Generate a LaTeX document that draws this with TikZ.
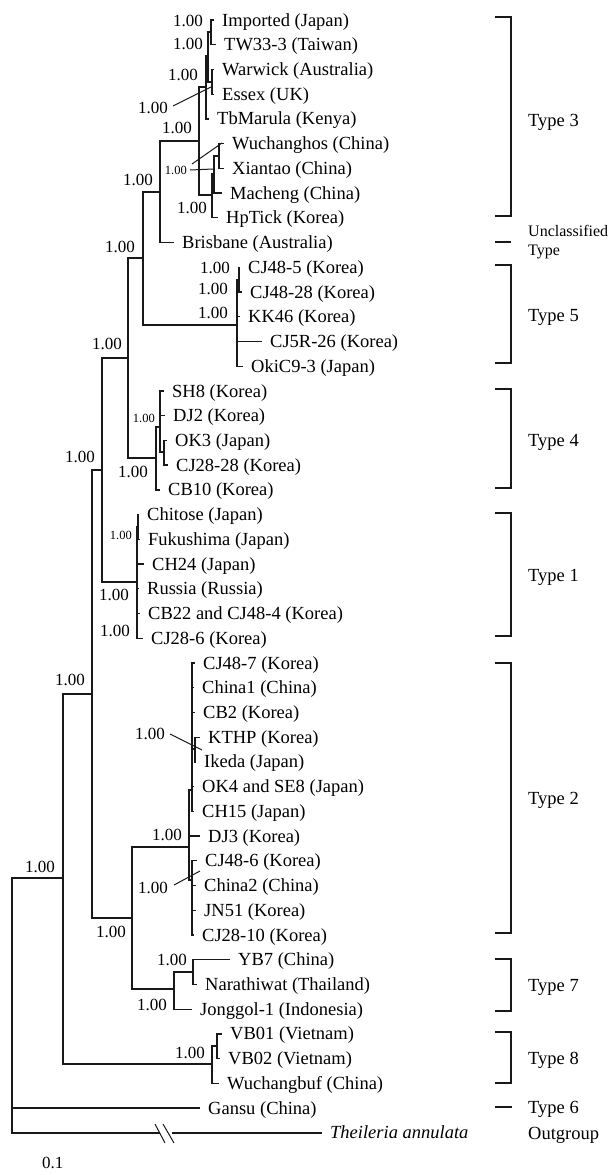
\documentclass[tikz,border=0pt]{standalone}
\usepackage{fontspec}
\setmainfont{Liberation Serif}
\newcommand\leafsize{\fontsize{18.5}{22}\selectfont}
\newcommand\supsize{\fontsize{17}{20}\selectfont}
\newcommand\minisize{\fontsize{12.5}{15}\selectfont}
\newcommand\unclsize{\fontsize{16}{19}\selectfont}

\tikzset{
  branch/.style={line width=1.3pt, draw=black!90},
  leaf/.style={anchor=west, inner xsep=8pt, inner ysep=0pt, text height=14pt, text depth=2pt, font=\leafsize},
  supp/.style={anchor=east, inner sep=0pt, text height=12.5pt, text depth=1.5pt, font=\supsize},
  supsmall/.style={anchor=east, inner sep=0pt, text height=9pt, text depth=1pt, font=\minisize},
  typelab/.style={anchor=west, inner sep=0pt, text height=14pt, text depth=2pt, font=\leafsize},
  bracket/.style={line width=1.6pt, draw=black!90},
  leader/.style={line width=1pt, draw=black!90}
}

\begin{document}
\begin{tikzpicture}[x=1pt,y=-1pt]
\useasboundingbox (0,0) rectangle (610,1175);

% ---- internal nodes of the tree
\coordinate (R)   at (12,1005);
\coordinate (A)   at (63,878);
\coordinate (B)   at (92,694);
\coordinate (C)   at (132,918);
\coordinate (T7)  at (174,989);
\coordinate (YN)  at (193,972);
\coordinate (T8)  at (212,1064);
\coordinate (VV)  at (217,1046);
\coordinate (T2)  at (189,847);
\coordinate (T2a) at (192,790);
\coordinate (KK)  at (195,749);
\coordinate (T2b) at (192,880);
\coordinate (P)   at (102,470);
\coordinate (Q)   at (128,358);
\coordinate (S)   at (143,258);
\coordinate (U)   at (160,192);
\coordinate (T3)  at (199,141);
\coordinate (J1)  at (206,87);
\coordinate (J2)  at (208,56);
\coordinate (IT)  at (211,32);
\coordinate (WE)  at (212,82);
\coordinate (CN)  at (212,195);
\coordinate (CX)  at (214,174);
\coordinate (WX)  at (219,156);
\coordinate (T5)  at (237,325);
\coordinate (T5a) at (239,280);
\coordinate (T4)  at (156,458);
\coordinate (SD)  at (160,427);
\coordinate (OC)  at (164,452);
\coordinate (T1)  at (137,582);
\coordinate (CF)  at (138,527);

% ---- taxa
\node[leaf] (imported)   at (214,20.0)   {Imported (Japan)};
\node[leaf] (tw)         at (216,44.7)   {TW33-3 (Taiwan)};
\node[leaf] (warwick)    at (214,69.5)   {Warwick (Australia)};
\node[leaf] (essex)      at (214,94.2)   {Essex (UK)};
\node[leaf] (tbmarula)   at (209,118.9)  {TbMarula (Kenya)};
\node[leaf] (wuchanghos) at (224,143.7)  {Wuchanghos (China)};
\node[leaf] (xiantao)    at (224,168.4)  {Xiantao (China)};
\node[leaf] (macheng)    at (222,193.1)  {Macheng (China)};
\node[leaf] (hptick)     at (218,217.8)  {HpTick (Korea)};
\node[leaf] (brisbane)   at (174,242.6)  {Brisbane (Australia)};
\node[leaf] (cja)        at (240,267.3)  {CJ48-5 (Korea)};
\node[leaf] (cjb)        at (242,292.0)  {CJ48-28 (Korea)};
\node[leaf] (kk46)       at (240,316.8)  {KK46 (Korea)};
\node[leaf] (cj5r)       at (262,341.5)  {CJ5R-26 (Korea)};
\node[leaf] (okic)       at (243,366.2)  {OkiC9-3 (Japan)};
\node[leaf] (sh8)        at (164,391.0)  {SH8 (Korea)};
\node[leaf] (dj2)        at (165,415.7)  {DJ2 (Korea)};
\node[leaf] (ok3)        at (167,440.4)  {OK3 (Japan)};
\node[leaf] (cj2828)     at (168,465.1)  {CJ28-28 (Korea)};
\node[leaf] (cb10)       at (160,489.9)  {CB10 (Korea)};
\node[leaf] (chitose)    at (139,514.6)  {Chitose (Japan)};
\node[leaf] (fukushima)  at (140,539.3)  {Fukushima (Japan)};
\node[leaf] (ch24)       at (144,564.1)  {CH24 (Japan)};
\node[leaf] (russia)     at (139,588.8)  {Russia (Russia)};
\node[leaf] (cb22)       at (140,613.5)  {CB22 and CJ48-4 (Korea)};
\node[leaf] (cj286)      at (143,638.3)  {CJ28-6 (Korea)};
\node[leaf] (cj487)      at (195,663.0)  {CJ48-7 (Korea)};
\node[leaf] (china1)     at (194,687.7)  {China1 (China)};
\node[leaf] (cb2)        at (195,712.4)  {CB2 (Korea)};
\node[leaf] (kthp)       at (200,737.2)  {KTHP (Korea)};
\node[leaf] (ikeda)      at (196,761.9)  {Ikeda (Japan)};
\node[leaf] (ok4)        at (194,786.6)  {OK4 and SE8 (Japan)};
\node[leaf] (ch15)       at (194,811.4)  {CH15 (Japan)};
\node[leaf] (dj3)        at (200,836.1)  {DJ3 (Korea)};
\node[leaf] (cj486)      at (197,860.8)  {CJ48-6 (Korea)};
\node[leaf] (china2)     at (196,885.6)  {China2 (China)};
\node[leaf] (jn51)       at (196,910.3)  {JN51 (Korea)};
\node[leaf] (cj2810)     at (194,935.0)  {CJ28-10 (Korea)};
\node[leaf] (yb7)        at (230,959.7)  {YB7 (China)};
\node[leaf] (narathiwat) at (197,984.5)  {Narathiwat (Thailand)};
\node[leaf] (jonggol)    at (192,1009.2) {Jonggol-1 (Indonesia)};
\node[leaf] (vb01)       at (222,1033.9) {VB01 (Vietnam)};
\node[leaf] (vb02)       at (220,1058.7) {VB02 (Vietnam)};
\node[leaf] (wuchangbuf) at (219,1083.4) {Wuchangbuf (China)};
\node[leaf] (gansu)      at (200,1108.1) {Gansu (China)};
\node[leaf, font=\leafsize\itshape] (theileria) at (322,1132.9) {Theileria annulata};

% ---- branches between internal nodes
\foreach \p/\c in {R/A, A/B, A/T8, B/P, B/C, C/T2, C/T7, T7/YN, T8/VV,
                   T2/T2a, T2/T2b, T2a/KK, P/Q, P/T1, Q/S, Q/T4, S/U, S/T5,
                   U/T3, T3/J1, T3/CN, J1/J2, J2/IT, J2/WE, CN/CX, CX/WX,
                   T5/T5a, T4/SD, SD/OC, T1/CF}
  \draw[branch] (\p) |- (\c);

% ---- branches to the taxa
\foreach \p/\c in {IT/imported, IT/tw, WE/warwick, WE/essex, J1/tbmarula,
                   WX/wuchanghos, WX/xiantao, CX/macheng, CN/hptick, U/brisbane,
                   T5a/cja, T5a/cjb, T5/kk46, T5/cj5r, T5/okic,
                   SD/sh8, SD/dj2, OC/ok3, OC/cj2828, T4/cb10,
                   CF/chitose, CF/fukushima, T1/ch24, T1/russia, T1/cb22, T1/cj286,
                   T2a/cj487, T2a/china1, T2a/cb2, KK/kthp, KK/ikeda, T2a/ok4, T2a/ch15,
                   T2/dj3, T2b/cj486, T2b/china2, T2b/jn51, T2b/cj2810,
                   YN/yb7, YN/narathiwat, T7/jonggol, VV/vb01, VV/vb02, T8/wuchangbuf,
                   R/gansu}
  \draw[branch] (\p) |- (\c.west);

% ---- long outgroup branch with a break
\coordinate (brkA) at (160,1132.9);
\coordinate (brkB) at (172,1132.9);
\draw[branch] (R) |- (brkA);
\draw[branch] (brkB) -- (theileria.west);
\draw[leader] (155,1124) -- (165,1143);
\draw[leader] (163,1124) -- (174,1143);

% ---- posterior probabilities
\node[supp] (b1)  at (203,21)   {1.00};
\node[supp] (b2)  at (203,44)   {1.00};
\node[supp] (b3)  at (198,75)   {1.00};
\node[supp] (b4)  at (168,108)  {1.00};
\node[supp] (b5)  at (192,128)  {1.00};
\node[supsmall] (b6) at (187,170) {1.00};
\node[supp] (b7)  at (153,180)  {1.00};
\node[supp] (b8)  at (207,208)  {1.00};
\node[supp] (b9)  at (135,247)  {1.00};
\node[supp] (b10) at (230,268)  {1.00};
\node[supp] (b11) at (228,289)  {1.00};
\node[supp] (b12) at (228,313)  {1.00};
\node[supp] (b13) at (122,344)  {1.00};
\node[supsmall] (b14) at (155,418) {1.00};
\node[supp] (b15) at (95,457)   {1.00};
\node[supp] (b16) at (148,472)  {1.00};
\node[supsmall] (b17) at (132,535) {1.00};
\node[supp] (b18) at (129,595)  {1.00};
\node[supp] (b19) at (130,631)  {1.00};
\node[supp] (b20) at (85,680)   {1.00};
\node[supp] (b21) at (165,734)  {1.00};
\node[supp] (b22) at (182,835)  {1.00};
\node[supp] (b23) at (55,867)   {1.00};
\node[supp] (b24) at (168,888)  {1.00};
\node[supp] (b25) at (126,932)  {1.00};
\node[supp] (b26) at (187,960)  {1.00};
\node[supp] (b27) at (167,1005) {1.00};
\node[supp] (b28) at (205,1053) {1.00};

% leader lines from labels to their nodes
\coordinate (b4t)  at (211,87);
\coordinate (b6t)  at (213,169);
\coordinate (b6u)  at (222,143);
\coordinate (b21t) at (202,750);
\coordinate (b24t) at (200,871);
\draw[leader] ([xshift=5pt,yshift=2pt]b4.east) -- (b4t);
\draw[leader] ([xshift=3pt]b6.east) -- (b6t);
\draw[leader] ([xshift=5pt,yshift=6pt]b6.east) -- (b6u);
\draw[leader] ([xshift=5pt]b21.east) -- (b21t);
\draw[leader] ([xshift=6pt,yshift=3pt]b24.east) -- (b24t);

% ---- genotype brackets
\draw[bracket] (495,17)  -| (511,216) -- (495,216);
\draw[bracket] (495,242) -- (511,242);
\draw[bracket] (495,265) -| (511,363) -- (495,363);
\draw[bracket] (495,389) -| (511,488) -- (495,488);
\draw[bracket] (495,513) -| (511,636) -- (495,636);
\draw[bracket] (495,663) -| (511,933) -- (495,933);
\draw[bracket] (495,959) -| (511,1011) -- (495,1011);
\draw[bracket] (495,1032) -| (511,1083) -- (495,1083);
\draw[bracket] (495,1107) -- (512,1107);

\node[typelab] (ty3) at (528,120)  {Type 3};
\node[anchor=west, inner sep=0pt, align=left, font=\unclsize] (tyu) at (528,242) {Unclassified\\Type};
\node[typelab] (ty5) at (528,315)  {Type 5};
\node[typelab] (ty4) at (528,440)  {Type 4};
\node[typelab] (ty1) at (528,575)  {Type 1};
\node[typelab] (ty2) at (528,798)  {Type 2};
\node[typelab] (ty7) at (528,985)  {Type 7};
\node[typelab] (ty8) at (528,1058) {Type 8};
\node[typelab] (ty6) at (528,1107) {Type 6};
\node[typelab] (tyo) at (528,1133) {Outgroup};

% ---- scale
\node[anchor=west, inner sep=0pt, text height=12.5pt, text depth=1.5pt, font=\supsize] (scale) at (42,1163) {0.1};
\end{tikzpicture}
\end{document}
